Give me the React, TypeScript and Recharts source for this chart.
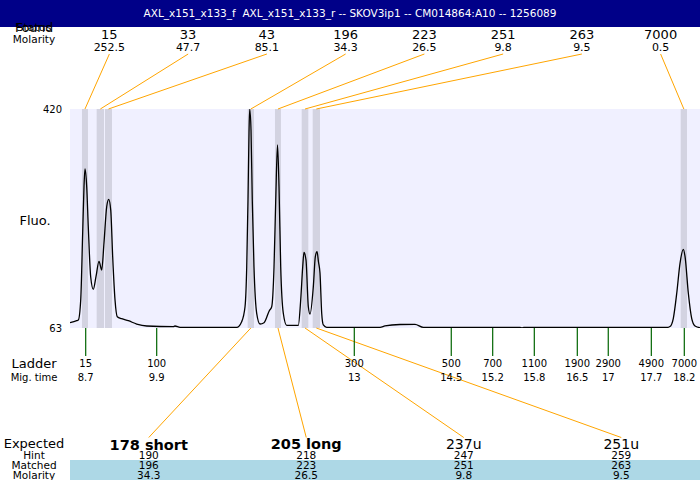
import {
  ComposedChart,
  Line,
  XAxis,
  YAxis,
  ReferenceArea,
  ReferenceLine,
} from "recharts";

const title = "AXL_x151_x133_f\u00a0\u00a0AXL_x151_x133_r -- SKOV3ip1 -- CM014864:A10 -- 1256089";

// electropherogram trace: migration time (s) vs fluorescence
const traceTime = [
  8.462, 8.568, 8.594, 8.632, 8.663, 8.684, 8.7, 8.727, 8.752, 8.79, 8.832, 8.874, 8.922, 8.965,
  9.001, 9.044, 9.076, 9.108, 9.139, 9.176, 9.212, 9.282, 9.387, 9.52, 9.679, 10.1, 10.127, 10.207,
  11.106, 11.185, 11.238, 11.265, 11.285, 11.301, 11.312, 11.333, 11.353, 11.38, 11.423, 11.476,
  11.539, 11.623, 11.661, 11.698, 11.725, 11.753, 11.777, 11.804, 11.845, 11.899, 12.083, 12.121,
  12.153, 12.173, 12.205, 12.242, 12.269, 12.321, 12.353, 12.38, 12.403, 12.427, 12.454, 12.48,
  12.533, 13.379, 13.458, 13.696, 13.934, 14.066, 15.599, 15.631, 15.662, 17.926, 17.978, 18.031,
  18.085, 18.137, 18.19, 18.217, 18.269, 18.322, 18.375, 18.454,
];
const traceFluo = [
  71.6, 74.9, 76.0, 108.6, 217.9, 293.3, 322.2, 293.3, 228.1, 146.6, 126.1, 146.6, 171.7, 157.5,
  201.6, 260.7, 272.8, 255.3, 179.2, 108.6, 81.4, 78.2, 74.9, 69.5, 66.3, 65.1, 66.3, 64.1,
  64.1, 73.3, 97.7, 162.9, 271.6, 380.9, 420, 385.7, 271.6, 162.9, 87.0, 69.5,
  71.6, 91.2, 97.7, 162.9, 271.6, 361.3, 293.3, 162.9, 87.0, 67.4, 67.4, 108.6,
  162.9, 186.1, 173.8, 97.7, 85.8, 130.3, 179.2, 187.4, 170.6, 152.7, 87.0, 67.9,
  64.1, 64.1, 66.3, 68.7, 69.0, 64.1, 64.1, 63.0, 64.1, 63.8, 65.4, 78.8,
  119.6, 168.5, 191.3, 179.2, 119.6, 78.8, 66.3, 63.5,
];

// found peaks
const foundSizes = ["15", "33", "43", "196", "223", "251", "263", "7000"];
const foundMolarity = ["252.5", "47.7", "85.1", "34.3", "26.5", "9.8", "9.5", "0.5"];
const peakStart = [8.652, 8.885, 9.017, 11.28, 11.713, 12.137, 12.311, 18.148];
const peakEnd = [8.747, 9.001, 9.128, 11.38, 11.808, 12.242, 12.427, 18.248];

// ladder
const ladderSizes = ["15", "100", "300", "500", "700", "1100", "1900", "2900", "4900", "7000"];
const ladderMigTime = ["8.7", "9.9", "13", "14.5", "15.2", "15.8", "16.5", "17", "17.7", "18.2"];
const ladderAt = [8.711, 9.837, 12.971, 14.509, 15.166, 15.826, 16.508, 16.999, 17.682, 18.205];

// expected products
const expected = ["178 short", "205 long", "237u", "251u"];
const expectedBold = [true, true, false, false];
const hint = ["190", "218", "247", "259"];
const matched = ["196", "223", "251", "263"];
const matchedMolarity = ["34.3", "26.5", "9.8", "9.5"];
const matchedPeak = [3, 4, 5, 6];

const T_MIN = 8.462;
const T_MAX = 18.454;
const Y_MIN = 63;
const Y_MAX = 420;
const PLOT_L = 70;
const PLOT_W = 630;
const PLOT_TOP = 109;
const PLOT_H = 219;

const FONT = "DejaVu Sans";
const data = traceTime.map((t, i) => ({ t, fluo: traceFluo[i] }));

const colT = (i: number, n: number) => T_MIN + ((T_MAX - T_MIN) * (i + 0.5)) / n;
const colX = (i: number, n: number) => PLOT_L + (PLOT_W * (i + 0.5)) / n;
const perPx = (Y_MAX - Y_MIN) / PLOT_H;
const yAboveLabels = Y_MAX + (PLOT_TOP - 54) * perPx;
const yBelowLabels = Y_MIN - (437.5 - (PLOT_TOP + PLOT_H)) * perPx;

function LadderTick(props: any) {
  const { x, y, payload } = props;
  const i = ladderAt.indexOf(payload.value);
  return (
    <g>
      <text x={x} y={y + 8.7} textAnchor="middle" fontSize={10} fill="#000" fontFamily={FONT}>
        {ladderSizes[i]}
      </text>
      <text x={x} y={y + 22.5} textAnchor="middle" fontSize={10} fill="#000" fontFamily={FONT}>
        {ladderMigTime[i]}
      </text>
    </g>
  );
}

export default function App() {
  return (
    <div style={{ position: "absolute", left: 0, top: 0, width: 700, height: 480, background: "#fff", fontFamily: FONT }}>
      <div style={{ position: "absolute", left: 0, top: 0 }}>
        <ComposedChart width={700} height={480} data={data} margin={{ top: 109, right: 0, bottom: 92, left: 0 }}>
          <XAxis
            dataKey="t"
            type="number"
            domain={[T_MIN, T_MAX]}
            allowDataOverflow
            ticks={ladderAt}
            interval={0}
            tickSize={28}
            tickLine={{ stroke: "#006400", strokeWidth: 1.2 }}
            axisLine={false}
            height={60}
            tick={(p: any) => <LadderTick {...p} />}
          />
          <YAxis
            type="number"
            domain={[Y_MIN, Y_MAX]}
            allowDataOverflow
            ticks={[Y_MIN, Y_MAX]}
            tickLine={false}
            axisLine={false}
            width={70}
            tick={{ fontSize: 10, fill: "#000", fontFamily: FONT }}
          />
          <ReferenceArea x1={T_MIN} x2={T_MAX} y1={Y_MIN} y2={Y_MAX} fill="#F0F0FF" fillOpacity={1} stroke="none" />
          {peakStart.map((s, i) => (
            <ReferenceArea key={"b" + i} x1={s} x2={peakEnd[i]} fill="#D3D3E1" fillOpacity={1} stroke="none" />
          ))}
          <Line
            dataKey="fluo"
            type="monotone"
            stroke="#000"
            strokeWidth={1.3}
            dot={false}
            isAnimationActive={false}
          />
          {peakStart.map((s, i) => (
            <ReferenceLine
              key={"t" + i}
              ifOverflow="visible"
              stroke="#FFA500"
              strokeWidth={1}
              segment={[
                { x: (s + peakEnd[i]) / 2, y: Y_MAX },
                { x: colT(i, 8), y: yAboveLabels },
              ]}
            />
          ))}
          {matchedPeak.map((k, i) => (
            <ReferenceLine
              key={"m" + i}
              ifOverflow="visible"
              stroke="#FFA500"
              strokeWidth={1}
              segment={[
                { x: (peakStart[k] + peakEnd[k]) / 2, y: Y_MIN },
                { x: colT(i, 4), y: yBelowLabels },
              ]}
            />
          ))}
        </ComposedChart>
      </div>
      <svg
        width={700}
        height={480}
        style={{ position: "absolute", left: 0, top: 0, pointerEvents: "none" }}
        fontFamily={FONT}
      >
        <rect x={0} y={0} width={700} height={27} fill="#000088" />
        <text x={350} y={16.5} fill="#fff" fontSize={10.5} textAnchor="middle">
          {title}
        </text>
        <text x={34} y={31} fontSize={11} textAnchor="middle">Status</text>
        <text x={34} y={32} fontSize={12.5} textAnchor="middle">Found</text>
        <text x={34} y={42.5} fontSize={10.5} textAnchor="middle">Molarity</text>
        {foundSizes.map((s, i) => (
          <text key={"fs" + i} x={colX(i, 8)} y={39} fontSize={13} textAnchor="middle">{s}</text>
        ))}
        {foundMolarity.map((s, i) => (
          <text key={"fm" + i} x={colX(i, 8)} y={51} fontSize={11} textAnchor="middle">{s}</text>
        ))}
        <text x={35} y={225} fontSize={13} textAnchor="middle">Fluo.</text>
        <text x={34} y={367.5} fontSize={13} textAnchor="middle">Ladder</text>
        <text x={34} y={380.5} fontSize={10} textAnchor="middle">Mig. time</text>
        <rect x={PLOT_L} y={460} width={PLOT_W} height={20} fill="#ADD8E6" />
        <text x={34} y={448} fontSize={13} textAnchor="middle">Expected</text>
        <text x={34} y={459} fontSize={10.5} textAnchor="middle">Hint</text>
        <text x={34} y={469} fontSize={10.5} textAnchor="middle">Matched</text>
        <text x={34} y={478.5} fontSize={10.5} textAnchor="middle">Molarity</text>
        {expected.map((s, i) => (
          <text
            key={"e" + i}
            x={colX(i, 4)}
            y={i === 0 ? 450 : 448.5}
            fontSize={expectedBold[i] ? 14.5 : 14}
            fontWeight={expectedBold[i] ? "bold" : "normal"}
            textAnchor="middle"
          >
            {s}
          </text>
        ))}
        {hint.map((s, i) => (
          <text key={"h" + i} x={colX(i, 4)} y={459} fontSize={10.5} textAnchor="middle">{s}</text>
        ))}
        {matched.map((s, i) => (
          <text key={"mt" + i} x={colX(i, 4)} y={469} fontSize={10.5} textAnchor="middle">{s}</text>
        ))}
        {matchedMolarity.map((s, i) => (
          <text key={"mm" + i} x={colX(i, 4)} y={478.5} fontSize={10.5} textAnchor="middle">{s}</text>
        ))}
      </svg>
    </div>
  );
}
